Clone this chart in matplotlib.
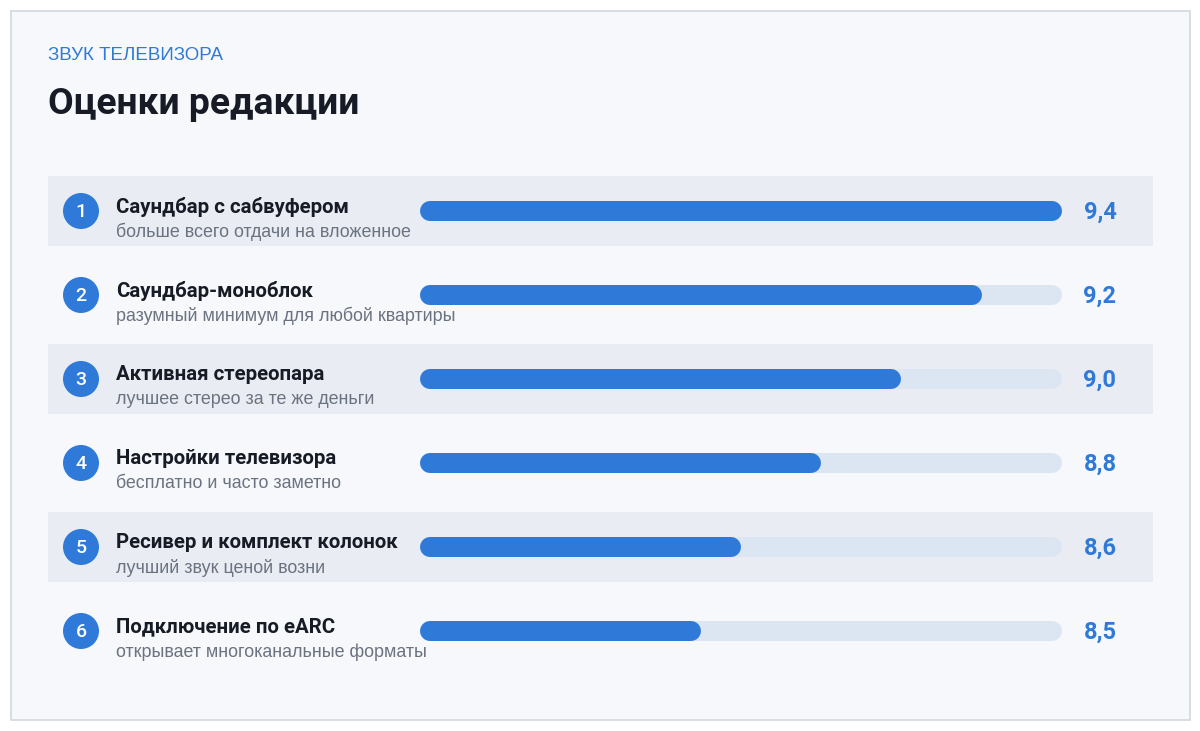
import matplotlib

matplotlib.use("Agg")
import matplotlib.pyplot as plt
from matplotlib.patches import Rectangle, Circle

plt.rcParams["font.family"] = ["Roboto", "DejaVu Sans"]

names = ["Саундбар с сабвуфером", "Саундбар-моноблок", "Активная стереопара",
         "Настройки телевизора", "Ресивер и комплект колонок", "Подключение по eARC"]
notes = ["больше всего отдачи на вложенное", "разумный минимум для любой квартиры",
         "лучшее стерео за те же деньги", "бесплатно и часто заметно",
         "лучший звук ценой возни", "открывает многоканальные форматы"]
scores = [9.4, 9.2, 9.0, 8.8, 8.6, 8.5]
labels = ["9,4", "9,2", "9,0", "8,8", "8,6", "8,5"]

W, H = 1200, 731
BLUE = "#2f7ad9"
TRACK = "#dce6f3"
fig = plt.figure(figsize=(W / 100, H / 100), dpi=100)
fig.patch.set_facecolor("white")
ax = fig.add_axes([0, 0, 1, 1])
ax.set_xlim(0, W)
ax.set_ylim(H, 0)
ax.axis("off")

ax.add_patch(Rectangle((10.5, 10.5), 1179, 709, facecolor="#f6f8fb", edgecolor="#d3d8e0", lw=1.2))
ax.text(48, 55, "ЗВУК ТЕЛЕВИЗОРА", color=BLUE, fontsize=13.5, va="center",
        family=["Liberation Sans", "DejaVu Sans"])
ax.text(48, 104, "Оценки редакции", color="#161b26", fontsize=26.8, fontweight="bold", va="center")

y0, step = 211, 84
for i, (name, note, lab) in enumerate(zip(names, notes, labels)):
    y = y0 + i * step
    if i % 2 == 0:
        ax.add_patch(Rectangle((48, y - 35), 1105, 70, facecolor="#e9edf3", edgecolor="none"))
    ax.add_patch(Circle((81, y), 18, facecolor=BLUE, edgecolor="none"))
    ax.text(81, y + 1, str(i + 1), color="white", fontsize=14, fontweight="medium",
            ha="center", va="center")
    ax.text(116, y - 4, name, color="#161b26", fontsize=14.7, fontweight="bold", va="center")
    ax.text(116, y + 21, note, color="#6b7280", fontsize=12.9, va="center",
            family=["Liberation Sans", "DejaVu Sans"])
    ax.text(1100, y + 1, lab, color=BLUE, fontsize=17, fontweight="bold", ha="center", va="center")

# bar panel: pixel x 420..1062 mapped to score 7.8..9.4
lo, hi = 7.8, 9.4
bx = fig.add_axes([420 / W, 0, 642 / W, 1])
bx.set_xlim(lo, hi)
bx.set_ylim(H, 0)
bx.axis("off")
lw_px = 20
pad = (lw_px / 2) * (hi - lo) / 642
for i, s in enumerate(scores):
    y = y0 + i * step
    bx.plot([lo + pad, hi - pad], [y, y], color=TRACK, lw=lw_px * 0.72, solid_capstyle="round")
    bx.plot([lo + pad, s - pad], [y, y], color=BLUE, lw=lw_px * 0.72, solid_capstyle="round")

fig.savefig("out.png", dpi=100)
